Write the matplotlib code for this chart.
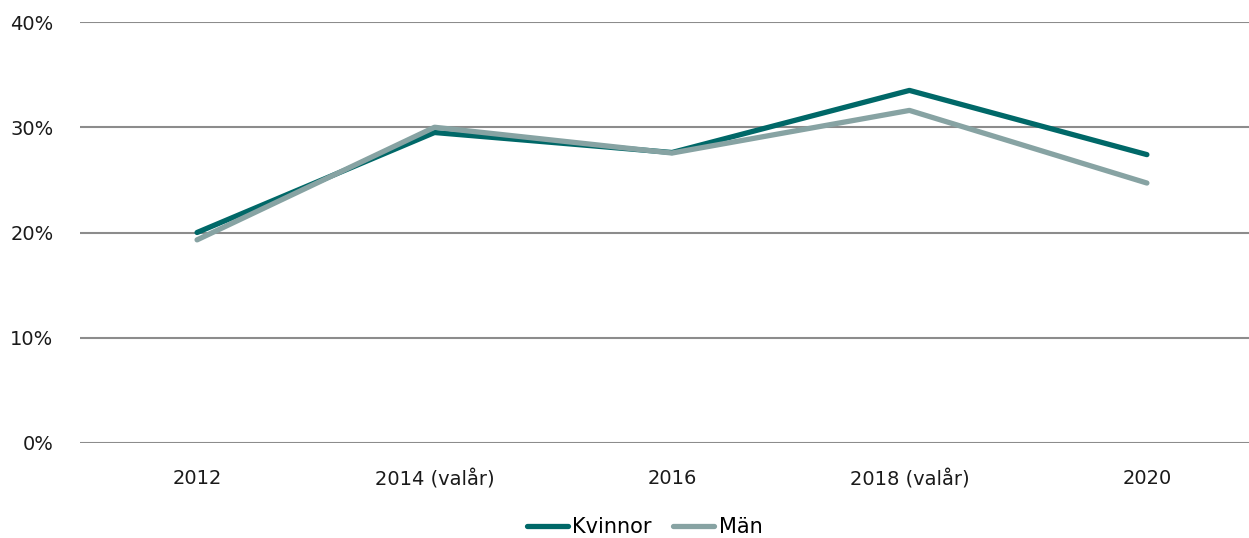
import matplotlib.pyplot as plt
from matplotlib.ticker import PercentFormatter

years = ['2012', '2014 (valår)', '2016', '2018 (valår)', '2020']
kvinnor = [20.0, 29.5, 27.6, 33.5, 27.4]
man = [19.3, 30.0, 27.55, 31.6, 24.7]

plt.rcParams['font.family'] = ['DejaVu Sans']

fig = plt.figure(figsize=(12.49, 5.38), dpi=100)
ax = fig.add_axes([80 / 1249, 1 - 443 / 538, 1 - 80 / 1249, (443 - 22) / 538])

x = range(len(years))
ax.plot(x, kvinnor, color='#006868', lw=3.8, label='Kvinnor', solid_capstyle='round')
ax.plot(x, man, color='#87a3a3', lw=3.8, label='Män', solid_capstyle='round')

ax.set_ylim(0, 40)
ax.set_xlim(-0.493, 4.43)
ax.set_yticks([0, 10, 20, 30, 40])
ax.yaxis.set_major_formatter(PercentFormatter(decimals=0))
ax.set_xticks(list(x))
ax.set_xticklabels(years)
ax.grid(axis='y', color='#8c8c8c', lw=1.5)
ax.set_axisbelow(True)
for s in ax.spines.values():
    s.set_visible(False)
ax.tick_params(length=0, labelsize=14, colors='#1a1a1a')
ax.tick_params(axis='y', pad=19)
ax.tick_params(axis='x', pad=19)

fig.legend(loc='center', bbox_to_anchor=(0.516, 1 - 527 / 538), ncol=2, frameon=False,
           fontsize=15, handlelength=2.0, handletextpad=0.2, columnspacing=1.0)

fig.savefig('out.png')
